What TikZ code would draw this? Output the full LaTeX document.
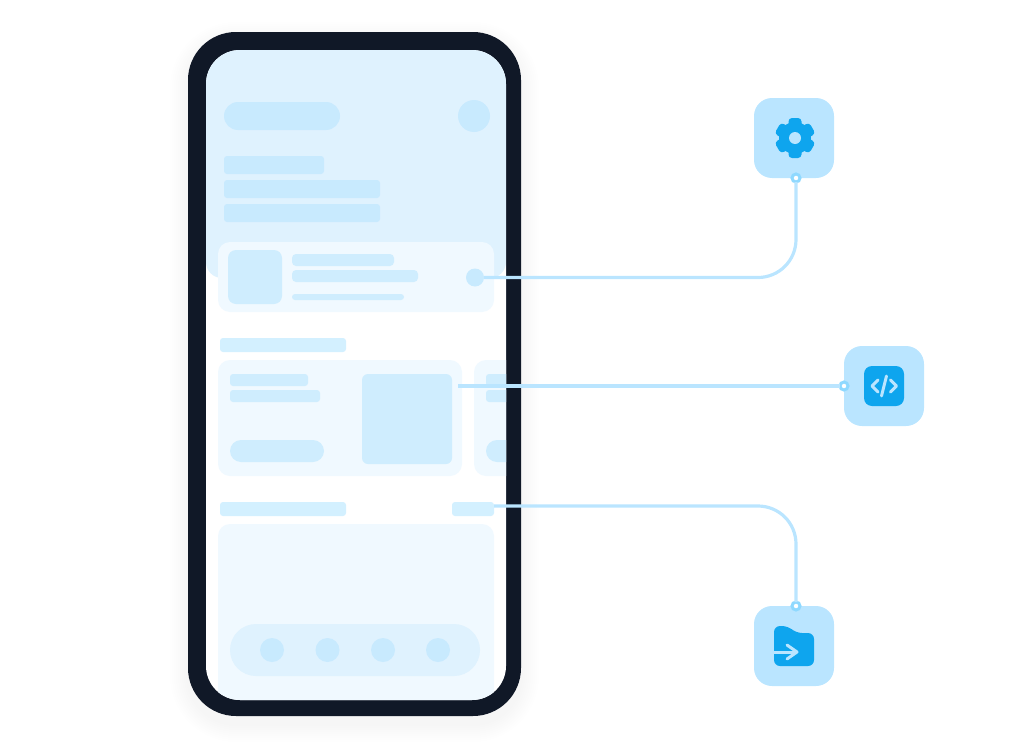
\documentclass[tikz,border=0pt]{standalone}
\def\px{0.75pt}
\definecolor{bezel}{HTML}{101827}
\definecolor{header}{HTML}{DFF2FE}
\definecolor{bar}{HTML}{C8EAFE}
\definecolor{card}{HTML}{F0F9FF}
\definecolor{thumb}{HTML}{CFEDFE}
\definecolor{label}{HTML}{D3F0FF}
\definecolor{tile}{HTML}{BAE5FF}
\definecolor{ring}{HTML}{8FD9FF}
\definecolor{icon}{HTML}{0EA5EE}
\tikzset{
  box/.style 2 args={rectangle, anchor=north west, inner sep=0pt, outer sep=0pt, minimum width=(#1)*\px, minimum height=(#2)*\px},
  disc/.style={circle, inner sep=0pt, outer sep=0pt, minimum size=(#1)*\px},
}
\begin{document}
\begin{tikzpicture}[x=0.75pt, y=-0.75pt]
        \tikzstyle{link} = [draw=tile, line width=3.2*\px]
        \tikzstyle{port} = [disc=8, draw=ring, fill=white, line width=3*\px]
        \tikzstyle{glyph} = [draw=tile, line width=3*\px, line cap=round, line join=round]
        \useasboundingbox (0, 0) rectangle (1014, 746);
        \foreach \s in {2, 4, ..., 18}
          \node[box={333+2*\s}{684+2*\s}, fill=black, fill opacity=0.004, rounded corners=(48+\s)*\px] (shadow\s) at (188-\s, 40-\s) {};
        \node[box={333}{684}, fill=bezel, rounded corners=48*\px] (phone) at (188, 32) {};
        \node[box={300}{650}, fill=white, rounded corners=34*\px] (screen) at (206, 50) {};
        \begin{scope}
          \clip[rounded corners=34*\px] (206, 50) rectangle (506, 700);
          \node[box={300}{248}, fill=header, rounded corners=16*\px] (header) at (206, 30) {};
          \node[box={116}{28}, fill=bar, rounded corners=14*\px] (search) at (224, 102) {};
          \node[disc=32, fill=bar] (avatar) at (474, 116) {};
          \node[box={100}{18}, fill=bar, rounded corners=3*\px] (title) at (224, 156) {};
          \node[box={156}{18}, fill=bar, rounded corners=3*\px] (subtitleA) at (224, 180) {};
          \node[box={156}{18}, fill=bar, rounded corners=3*\px] (subtitleB) at (224, 204) {};
          \node[box={276}{70}, fill=card, rounded corners=12*\px] (profile) at (218, 242) {};
          \node[box={54}{54}, fill=thumb, rounded corners=8*\px] (profileImg) at (228, 250) {};
          \node[box={102}{12}, fill=thumb, rounded corners=4*\px] (profileA) at (292, 254) {};
          \node[box={126}{12}, fill=thumb, rounded corners=4*\px] (profileB) at (292, 270) {};
          \node[box={112}{6}, fill=thumb, rounded corners=3*\px] (profileC) at (292, 294) {};
          \node[disc=18, fill=bar] (profileDot) at (475, 277.5) {};
          \node[box={126}{14}, fill=label, rounded corners=3*\px] (sectionA) at (220, 338) {};
          \node[box={244}{116}, fill=card, rounded corners=12*\px] (offer) at (218, 360) {};
          \node[box={78}{12}, fill=thumb, rounded corners=3*\px] (offerA) at (230, 374) {};
          \node[box={90}{12}, fill=thumb, rounded corners=3*\px] (offerB) at (230, 390) {};
          \node[box={94}{22}, fill=thumb, rounded corners=11*\px] (offerBtn) at (230, 440) {};
          \node[box={90}{90}, fill=thumb, rounded corners=6*\px] (offerImg) at (362, 374) {};
          \node[box={244}{116}, fill=card, rounded corners=12*\px] (next) at (474, 360) {};
          \node[box={78}{12}, fill=thumb, rounded corners=3*\px] (nextA) at (486, 374) {};
          \node[box={90}{12}, fill=thumb, rounded corners=3*\px] (nextB) at (486, 390) {};
          \node[box={94}{22}, fill=thumb, rounded corners=11*\px] (nextBtn) at (486, 440) {};
          \node[box={126}{14}, fill=label, rounded corners=3*\px] (sectionB) at (220, 502) {};
          \node[box={42}{14}, fill=label, rounded corners=3*\px] (more) at (452, 502) {};
          \node[box={276}{200}, fill=card, rounded corners=12*\px] (list) at (218, 524) {};
          \node[box={250}{52}, fill=header, rounded corners=26*\px] (nav) at (230, 624) {};
          \foreach \x/\n in {272/A, 327.5/B, 383/C, 438/D}
            \node[disc=24, fill=bar] (nav\n) at (\x, 650) {};
        \end{scope}
        \node[box={80}{80}, fill=tile, rounded corners=18*\px] (settings) at (754, 98) {};
        \node[box={80}{80}, fill=tile, rounded corners=18*\px] (code) at (844, 346) {};
        \node[box={80}{80}, fill=tile, rounded corners=18*\px] (folder) at (754, 606) {};
        \node[port] (settingsPort) at (796, 178) {};
        \node[port] (codePort) at (844, 386) {};
        \node[port] (folderPort) at (796, 606) {};
        \coordinate (offerEnd) at (458, 386);
        \coordinate (moreEnd) at (494, 506);
        \draw[link, rounded corners=38*\px] (profileDot) -| (settingsPort);
        \draw[link] (offerEnd) -- (codePort);
        \draw[link, rounded corners=38*\px] (moreEnd) -| (folderPort);
        \begin{scope}[shift={(795, 138)}]
          \foreach \a in {30, 90, 150}
            \fill[icon, rounded corners=3.5*\px, rotate=\a] (-20, -6.5) rectangle (20, 6.5);
          \node[disc=32, fill=icon] (gear) at (0, 0) {};
          \node[disc=12, fill=tile] (gearHole) at (0, 0) {};
        \end{scope}
        \node[box={40}{40}, fill=icon, rounded corners=8*\px] (codeIcon) at (864, 366) {};
        \draw[glyph] (878, 380) -- (872, 386) -- (878, 392);
        \draw[glyph] (890.5, 380) -- (896.5, 386) -- (890.5, 392);
        \draw[glyph] (886.5, 376) -- (881.5, 396);
        \fill[icon, rounded corners=6*\px] (774, 626) -- (788, 626) -- (796, 633) -- (814, 633) -- (814, 666) -- (774, 666) -- cycle;
        \draw[glyph, line cap=butt] (774, 652) -- (796, 652);
        \draw[glyph] (787, 645) -- (797, 652) -- (787, 659);
      \end{tikzpicture}
\end{document}
